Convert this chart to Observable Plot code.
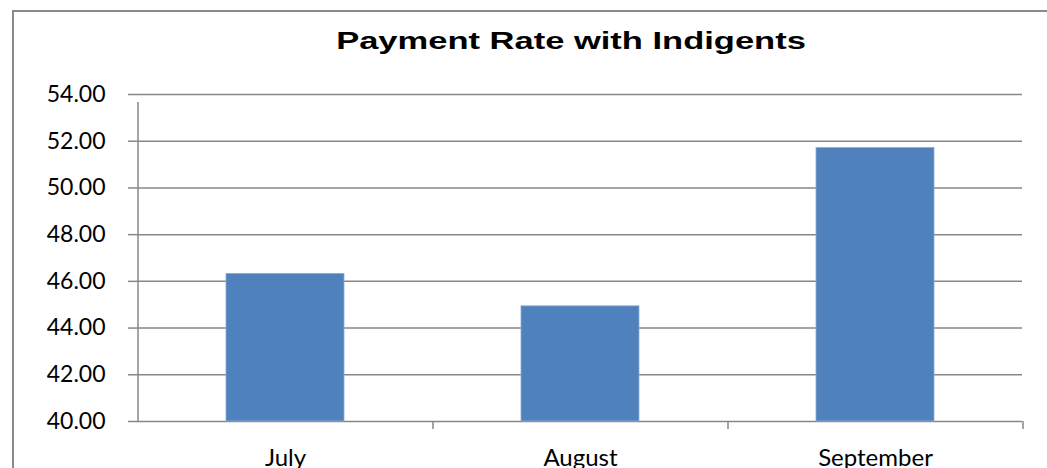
<!DOCTYPE html>
<html>
<head>
<meta charset="utf-8">
<script src="https://cdn.jsdelivr.net/npm/d3@7"></script>
<script src="https://cdn.jsdelivr.net/npm/@observablehq/plot@0.6"></script>
<style>
  html, body { margin: 0; padding: 0; background: #fff; overflow: hidden; }
  #wrap { position: relative; width: 1047px; height: 468px; overflow: hidden; }
  #border { position: absolute; left: 12px; top: 10px; width: 1100px; height: 520px;
            border: 2px solid #8a8a8a; box-sizing: border-box; }
  #title { position: absolute; left: 571px; top: 30px; white-space: nowrap;
           font-family: "Liberation Sans", Arial, sans-serif; font-weight: bold;
           font-size: 23px; line-height: 1; color: #000;
           transform: translateX(-50%) scaleX(1.5); transform-origin: center; }
  #chart { position: absolute; left: 0; top: 70px; }
</style>
</head>
<body>
<div id="wrap">
  <div id="border"></div>
  <div id="title">Payment Rate with Indigents</div>
  <div id="chart"></div>
</div>
<script>
const months = ["July", "August", "September"];
const rates = [46.32, 44.93, 51.71];
const yTicks = [40, 42, 44, 46, 48, 50, 52, 54];

const data = months.map((m, i) => ({month: m, rate: rates[i]}));

const W = 1047, H = 398, mL = 137, mR = 25, mT = 24, mB = 47;
const step = (W - mL - mR) / months.length;
const grid = "#878787";

const plot = Plot.plot({
  width: W, height: H,
  marginLeft: mL, marginRight: mR, marginTop: mT, marginBottom: mB,
  style: {fontFamily: "Lato, 'Open Sans', sans-serif", background: "transparent"},
  x: {domain: months, paddingInner: 0.6, paddingOuter: 0.3, axis: null},
  y: {domain: [40, 54], axis: null},
  marks: [
    Plot.ruleY(yTicks, {stroke: grid, strokeWidth: 1.5}),
    Plot.barY(data, {x: "month", y1: 40, y2: "rate", fill: "#4F81BD", stroke: "#8eabd3", strokeWidth: 0.8}),
    // vertical axis line (extends below baseline)
    Plot.ruleX([months[0]], {x: d => d, dx: -step / 2, y1: 40, y2: 54, insetBottom: -8, stroke: grid, strokeWidth: 1.5}),
    // category boundary ticks
    Plot.ruleX(months.slice(1), {x: d => d, dx: -step / 2, y1: 40, y2: 40, insetBottom: -8, stroke: grid, strokeWidth: 1.5}),
    Plot.ruleX([months[months.length - 1]], {x: d => d, dx: step / 2, y1: 40, y2: 40, insetBottom: -8, stroke: grid, strokeWidth: 1.5}),
    Plot.axisY(yTicks, {tickSize: 9, tickPadding: 23, tickFormat: d3.format(".2f"), stroke: grid, strokeWidth: 1.5,
      fontSize: 23, fill: "#000", label: null}),
    Plot.axisX({tickSize: 0, tickPadding: 27, fontSize: 24, fill: "#000", label: null})
  ]
});
document.getElementById("chart").appendChild(plot);
</script>
</body>
</html>
